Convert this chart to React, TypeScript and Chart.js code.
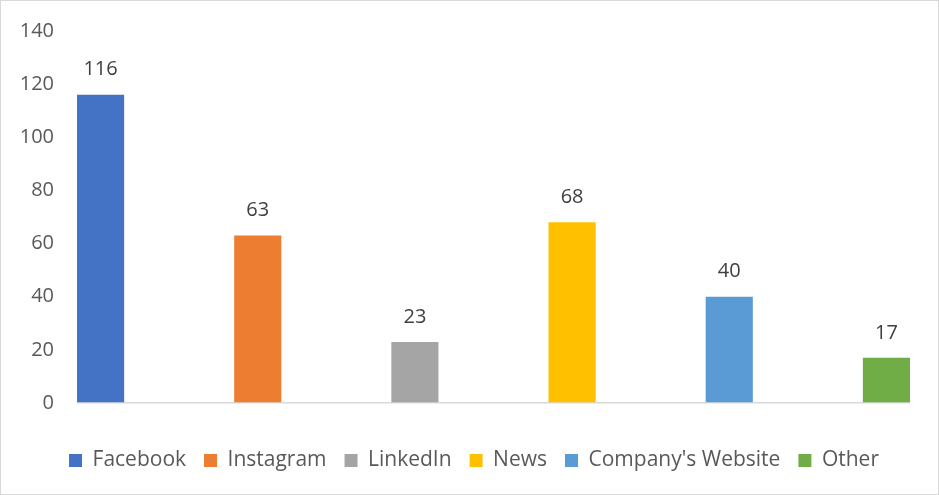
import React, { useEffect, useRef } from "react";
import { Chart, registerables } from "chart.js";

Chart.register(...registerables);

const seriesNames = ["Facebook", "Instagram", "LinkedIn", "News", "Company's Website", "Other"];
const seriesValues = [116, 63, 23, 68, 40, 17];
const seriesColors = ["#4472C4", "#ED7D31", "#A5A5A5", "#FFC000", "#5B9BD5", "#70AD47"];
const yTicks = { min: 0, max: 140, step: 20 };

const FONT = "'Open Sans', 'Noto Sans', sans-serif";

const labelPlugin = {
  id: "valueLabels",
  afterDatasetsDraw(chart: any) {
    const ctx = chart.ctx;
    ctx.save();
    ctx.font = `20px ${FONT}`;
    ctx.fillStyle = "#404040";
    ctx.textAlign = "center";
    ctx.textBaseline = "middle";
    chart.data.datasets.forEach((ds: any, i: number) => {
      const meta = chart.getDatasetMeta(i);
      meta.data.forEach((el: any, j: number) => {
        const v = ds.data[j].y;
        ctx.fillText(String(v), el.x, el.y - 25);
      });
    });
    ctx.restore();
  },
};

const borderPlugin = {
  id: "outerBorder",
  afterLayout(chart: any) {
    if (chart.legend) {
      chart.legend.left += 19;
      chart.legend.right += 19;
    }
  },
  afterDraw(chart: any) {
    const ctx = chart.ctx;
    ctx.save();
    ctx.strokeStyle = "#d9d9d9";
    ctx.lineWidth = 1;
    ctx.strokeRect(0.5, 0.5, chart.width - 1, chart.height - 1);
    ctx.restore();
  },
};

export default function App() {
  const ref = useRef<HTMLCanvasElement>(null);
  useEffect(() => {
    document.body.style.margin = "0";
    const chart = new Chart(ref.current!, {
      type: "bar",
      data: {
        datasets: seriesNames.map((name, i) => ({
          label: name,
          data: [{ x: i, y: seriesValues[i] }],
          backgroundColor: seriesColors[i],
          borderWidth: 0,
          grouped: false,
          barPercentage: 0.3,
          categoryPercentage: 1,
        })),
      },
      options: {
        animation: false,
        responsive: false,
        layout: { padding: { left: 0, right: 29, top: 31, bottom: 14 } },
        scales: {
          x: {
            type: "linear",
            min: -0.15,
            max: 5.15,
            offset: false,
            display: true,
            ticks: { display: false },
            grid: { display: false },
            border: { display: false },
            afterFit: (s: any) => { s.height = 29; },
          },
          y: {
            min: yTicks.min,
            max: yTicks.max,
            ticks: {
              stepSize: yTicks.step,
              padding: 23,
              color: "#595959",
              font: { family: FONT, size: 20 },
            },
            grid: {
              drawTicks: false,
              lineWidth: 1.5,
              color: (c: any) => (c.tick && c.tick.value === 0 ? "#d9d9d9" : "rgba(0,0,0,0)"),
            },
            border: { display: false },
            afterFit: (s: any) => {
              s.width = 77;
              s.paddingTop = 0;
              s.paddingBottom = 0;
            },
          },
        },
        plugins: {
          tooltip: { enabled: false },
          legend: {
            position: "bottom",
            labels: {
              boxWidth: 13,
              boxHeight: 13,
              padding: 18,
              color: "#595959",
              font: { family: FONT, size: 21 },
            },
          },
        },
      },
      plugins: [labelPlugin, borderPlugin],
    });
    return () => chart.destroy();
  }, []);
  return <canvas ref={ref} width={939} height={495} style={{ display: "block" }} />;
}
